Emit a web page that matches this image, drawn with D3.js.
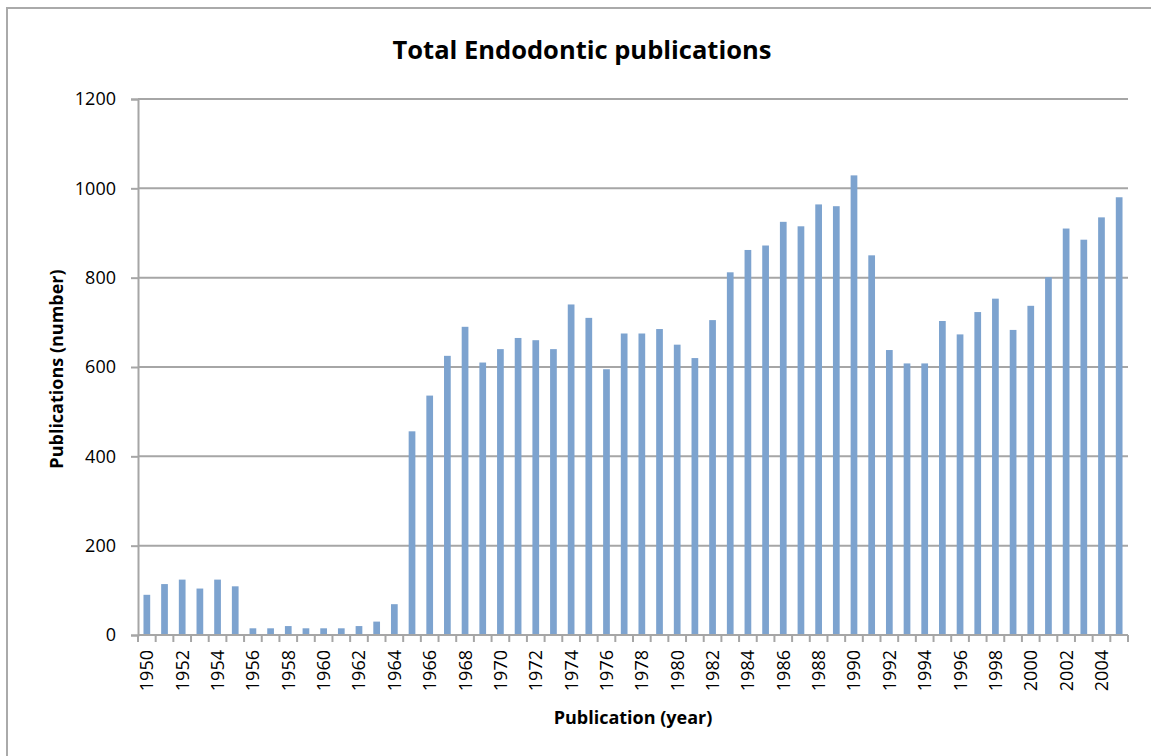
<!DOCTYPE html>
<html>
<head>
<meta charset="utf-8">
<script src="https://cdn.jsdelivr.net/npm/d3@7"></script>
<style>
  html, body { margin: 0; padding: 0; background: #fff; }
  svg { display: block; }
  text { font-family: "Open Sans", "Noto Sans", sans-serif; fill: #000; }
</style>
</head>
<body>
<svg id="chart" width="1151" height="756"></svg>
<script>
// Publication years, 1950–2005
const years = d3.range(1950, 2006);

// Total endodontic publications per year
const publications = [
  90, 114, 124, 104, 124, 109, 15, 15, 20, 15,
  15, 15, 20, 30, 69, 456, 536, 625, 690, 610,
  640, 665, 660, 640, 740, 710, 595, 675, 675, 685,
  650, 620, 705, 812, 862, 872, 925, 915, 964, 960,
  1029, 850, 638, 608, 608, 703, 673, 723, 753, 683,
  737, 801, 910, 885, 935, 980
];

// Y axis tick values
const yTicks = [0, 200, 400, 600, 800, 1000, 1200];

// Every other year gets a label on the x axis
const xTickLabels = years.filter(y => (y - 1950) % 2 === 0);

const svg = d3.select("#chart");
const margin = { left: 138, right: 23, top: 99, bottom: 121 };
const W = 1151, H = 756;
const plotW = W - margin.left - margin.right;
const plotH = H - margin.top - margin.bottom;

const gridColor = "#a6a6a6";

// Outer frame (top and left edges)
svg.append("path")
  .attr("d", `M7,756 V8 H1151`)
  .attr("fill", "none")
  .attr("stroke", "#aaaaaa")
  .attr("stroke-width", 2);

const x = d3.scaleBand()
  .domain(years)
  .range([margin.left, margin.left + plotW])
  .paddingInner(0.62)
  .paddingOuter(0.31);

const y = d3.scaleLinear()
  .domain([0, 1200])
  .range([margin.top + plotH, margin.top]);

// Horizontal gridlines
svg.append("g")
  .selectAll("line")
  .data(yTicks.filter(t => t > 0))
  .join("line")
  .attr("x1", margin.left)
  .attr("x2", margin.left + plotW)
  .attr("y1", d => y(d))
  .attr("y2", d => y(d))
  .attr("stroke", gridColor)
  .attr("stroke-width", 2);

// Bars
svg.append("g")
  .selectAll("rect")
  .data(years.map((yr, i) => ({ yr, v: publications[i] })))
  .join("rect")
  .attr("x", d => x(d.yr))
  .attr("width", x.bandwidth())
  .attr("y", d => y(d.v))
  .attr("height", d => y(0) - y(d.v))
  .attr("fill", "#7da3cf");

// Y axis
const yAxis = d3.axisLeft(y)
  .tickValues(yTicks)
  .tickSize(7)
  .tickPadding(15)
  .tickFormat(d3.format("d"));

const gy = svg.append("g")
  .attr("transform", `translate(${margin.left},0)`)
  .call(yAxis);
gy.select(".domain").attr("stroke", gridColor).attr("stroke-width", 2);
gy.selectAll(".tick line").attr("stroke", gridColor).attr("stroke-width", 2);
gy.selectAll(".tick text")
  .attr("font-size", 18)
  .style("font-family", "'Open Sans', sans-serif");

// X axis: ticks on category boundaries
const step = x.step();
const boundaries = d3.range(years.length + 1).map(i => margin.left + i * step);

const gx = svg.append("g");
gx.append("line")
  .attr("x1", margin.left)
  .attr("x2", margin.left + plotW)
  .attr("y1", y(0))
  .attr("y2", y(0))
  .attr("stroke", gridColor)
  .attr("stroke-width", 2);
gx.selectAll("line.tick")
  .data(boundaries)
  .join("line")
  .attr("class", "tick")
  .attr("x1", d => d)
  .attr("x2", d => d)
  .attr("y1", y(0))
  .attr("y2", y(0) + 7)
  .attr("stroke", gridColor)
  .attr("stroke-width", 2);

gx.selectAll("text")
  .data(xTickLabels)
  .join("text")
  .attr("transform", d => `translate(${x(d) + x.bandwidth() / 2 + 6.5},${y(0) + 15}) rotate(-90)`)
  .attr("text-anchor", "end")
  .attr("font-size", 18)
  .text(d => d);

// Title
svg.append("text")
  .attr("x", 582)
  .attr("y", 59)
  .attr("text-anchor", "middle")
  .attr("font-size", 25.5)
  .attr("font-weight", "bold")
  .text("Total Endodontic publications");

// Axis titles
svg.append("text")
  .attr("transform", `translate(63,369) rotate(-90)`)
  .attr("text-anchor", "middle")
  .attr("font-size", 18)
  .attr("font-weight", "bold")
  .text("Publications (number)");

svg.append("text")
  .attr("x", 633)
  .attr("y", 724)
  .attr("text-anchor", "middle")
  .attr("font-size", 18)
  .attr("font-weight", "bold")
  .text("Publication (year)");
</script>
</body>
</html>
